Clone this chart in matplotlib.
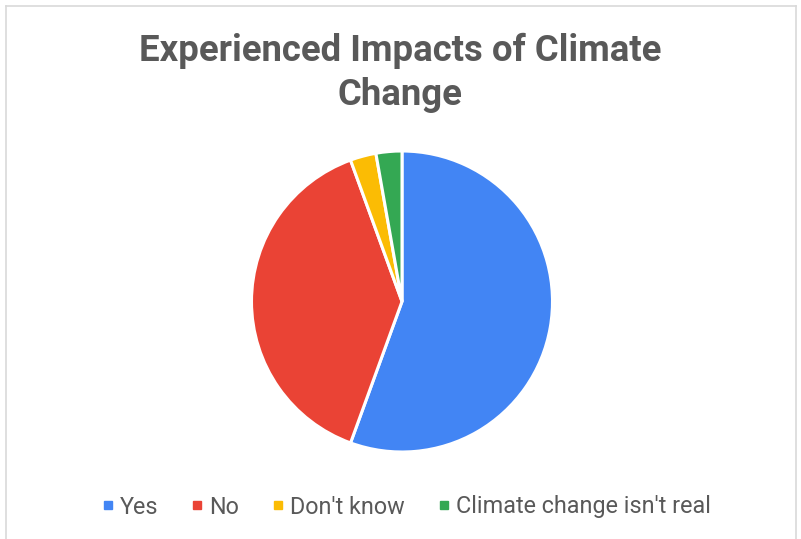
import matplotlib.pyplot as plt
from matplotlib.lines import Line2D

labels = ['Yes', 'No', "Don't know", "Climate change isn't real"]
values = [60, 42, 3, 3]
colors = ['#4285f4', '#ea4335', '#fbbc04', '#34a853']

plt.rcParams['font.family'] = ['Roboto', 'DejaVu Sans']

W, H = 801, 539
fig = plt.figure(figsize=(W / 100, H / 100), dpi=100)

# pie axes: centre (402, 301.5) px, radius 150.5 px
cx, cy, r = 402, 301.5, 150.5
ax = fig.add_axes([(cx - r) / W, 1 - (cy + r) / H, 2 * r / W, 2 * r / H])
ax.pie(values, colors=colors, startangle=90, counterclock=False,
       wedgeprops=dict(edgecolor='white', linewidth=2.2, clip_on=False))
ax.set_xlim(-1, 1)
ax.set_ylim(-1, 1)
ax.set_aspect('auto')

# chart border
grey = '#d9d9d9'
fig.add_artist(Line2D([6 / W, 6 / W], [0, 1 - 6 / H], color=grey, lw=1.2))
fig.add_artist(Line2D([796 / W, 796 / W], [0, 1 - 6 / H], color=grey, lw=1.2))
fig.add_artist(Line2D([6 / W, 796 / W], [1 - 6 / H, 1 - 6 / H], color=grey, lw=1.2))

fig.text(400 / W, 1 - 61 / H, 'Experienced Impacts of Climate', ha='center', va='baseline',
         fontsize=26.3, fontweight='bold', color='#595959')
fig.text(400 / W, 1 - 105 / H, 'Change', ha='center', va='baseline',
         fontsize=26.3, fontweight='bold', color='#595959')

handles = [Line2D([], [], marker='s', linestyle='none', markersize=5.8,
                  markerfacecolor=c, markeredgecolor=c) for c in colors]
fig.legend(handles, labels, loc='center', bbox_to_anchor=(406 / W, 1 - 507 / H),
           ncol=4, frameon=False, fontsize=16.8, labelcolor='#595959',
           handlelength=0.55, handletextpad=0.25, columnspacing=1.38)

fig.savefig('out.png', dpi=100, facecolor='white')
